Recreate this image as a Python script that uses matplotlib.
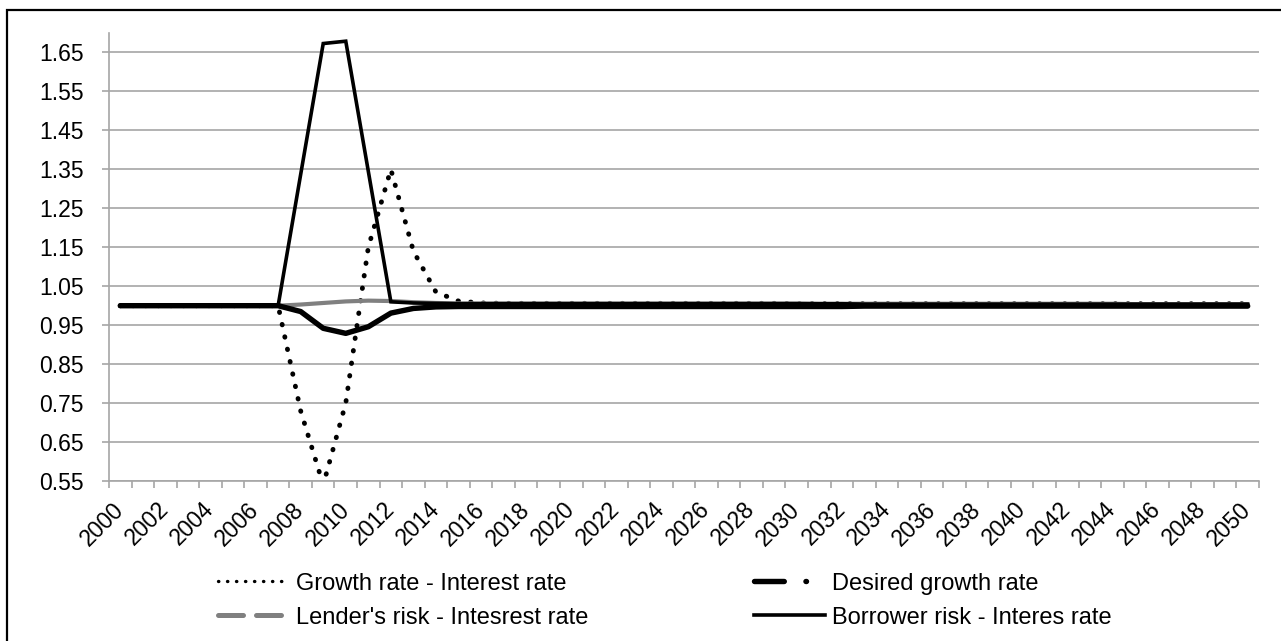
import numpy as np
import matplotlib
matplotlib.use("Agg")
import matplotlib.pyplot as plt
from matplotlib.lines import Line2D
from matplotlib.patches import Rectangle

plt.rcParams['font.family'] = ['Liberation Sans', 'DejaVu Sans']

# Data
years = list(range(2000, 2051))
tick_years = [str(y) for y in range(2000, 2051, 2)]

growth_minus_interest = (
    [1.000, 1.000, 1.000, 1.000, 1.000, 1.000, 1.000, 1.000,
     0.730, 0.540, 0.750, 1.150, 1.350, 1.140, 1.035, 1.012, 1.007]
    + [1.006, 1.006, 1.006, 1.006, 1.006, 1.006, 1.006, 1.006, 1.006, 1.006,
       1.006, 1.006, 1.006, 1.005, 1.005, 1.005, 1.005, 1.005, 1.005, 1.005,
       1.005, 1.005, 1.005, 1.005, 1.005, 1.005, 1.005, 1.005, 1.005, 1.005,
       1.005, 1.005, 1.005, 1.005]
)
lender_risk = (
    [1.000, 1.000, 1.000, 1.000, 1.000, 1.000, 1.000, 1.000,
     1.003, 1.007, 1.011, 1.013, 1.012, 1.009, 1.007, 1.006, 1.006]
    + [1.006, 1.006, 1.006, 1.006, 1.006, 1.006, 1.006, 1.006, 1.006, 1.006,
       1.006, 1.006, 1.006, 1.006, 1.005, 1.005, 1.005, 1.005, 1.005, 1.005,
       1.005, 1.005, 1.005, 1.005, 1.005, 1.005, 1.005, 1.005, 1.004, 1.004,
       1.004, 1.004, 1.004, 1.004]
)
desired_growth = (
    [1.000, 1.000, 1.000, 1.000, 1.000, 1.000, 1.000, 1.000,
     0.985, 0.942, 0.929, 0.946, 0.981, 0.993, 0.997, 0.998, 0.998]
    + [0.998, 0.998, 0.998, 0.998, 0.998, 0.998, 0.998, 0.998, 0.998, 0.998,
       0.998, 0.998, 0.998, 0.998, 0.998, 0.998, 0.999, 0.999, 0.999, 0.999,
       0.999, 0.999, 0.999, 0.999, 0.999, 0.999, 0.999, 0.999, 0.999, 0.999,
       0.999, 0.999, 0.999, 0.999]
)
borrower_risk = (
    [1.000, 1.000, 1.000, 1.000, 1.000, 1.000, 1.000, 1.000,
     1.337, 1.673, 1.679, 1.345, 1.010, 1.007, 1.006, 1.005, 1.005]
    + [1.005, 1.005, 1.005, 1.005, 1.005, 1.005, 1.005, 1.005, 1.005, 1.005,
       1.005, 1.005, 1.005, 1.005, 1.005, 1.005, 1.004, 1.004, 1.004, 1.004,
       1.004, 1.004, 1.004, 1.004, 1.004, 1.004, 1.004, 1.004, 1.004, 1.004,
       1.004, 1.004, 1.004, 1.004]
)

labels = ["Growth rate - Interest rate", "Lender's risk - Intesrest rate",
          "Desired growth rate", "Borrower risk - Interes rate"]

GRID = '#a6a6a6'
FS = 16.5

fig = plt.figure(figsize=(12.81, 6.41), dpi=100)
ax = fig.add_axes([0.0851, 0.2496, 0.8977, 0.6989])

x = np.arange(len(years))
ax.plot(x, growth_minus_interest, color='black', lw=3.5,
        linestyle=(0, (0.1, 2.5)), dash_capstyle='round', zorder=3)
ax.plot(x, lender_risk, color='#808080', lw=3.0, zorder=4,
        solid_capstyle='round')
ax.plot(x, borrower_risk, color='black', lw=2.6, zorder=5,
        solid_joinstyle='miter')
ax.plot(x, desired_growth, color='black', lw=3.9, zorder=6,
        solid_capstyle='round')

ax.set_xlim(-0.5, len(years) - 0.5)
ax.set_ylim(0.55, 1.70)
ax.set_yticks(np.arange(0.55, 1.66, 0.1))
ax.set_yticklabels(["%.2f" % v for v in np.arange(0.55, 1.66, 0.1)])
ax.yaxis.grid(True, color=GRID, lw=1.2)
ax.set_axisbelow(True)

ax.set_xticks(np.arange(-0.5, len(years), 1.0), minor=True)
ax.set_xticks(np.arange(0, len(years), 2))
ax.set_xticklabels(tick_years, rotation=45, ha='right', va='center',
                   rotation_mode='anchor')
ax.tick_params(axis='x', which='major', length=0, pad=18, labelsize=FS)
ax.tick_params(axis='x', which='minor', length=5, color=GRID, width=1.2)
ax.tick_params(axis='y', length=5, color=GRID, width=1.2, pad=13,
               labelsize=FS)

for side in ['top', 'right']:
    ax.spines[side].set_visible(False)
for side in ['left', 'bottom']:
    ax.spines[side].set_color(GRID)
    ax.spines[side].set_linewidth(1.2)

handles = [
    Line2D([], [], color='black', lw=2.4, linestyle=(0, (0.1, 2.6)),
           dash_capstyle='round'),
    Line2D([], [], color='#808080', lw=3.6, linestyle=(0, (5.0, 2.6)),
           dash_capstyle='round'),
    Line2D([], [], color='black', lw=3.9, linestyle=(0, (5.5, 4.0, 0.1, 4.0)),
           dash_capstyle='round'),
    Line2D([], [], color='black', lw=2.6),
]
fig.legend(handles, labels, ncol=2, loc='center',
           bbox_to_anchor=(0.519, 0.063), frameon=False, fontsize=17,
           handlelength=3.0, handletextpad=0.3, columnspacing=7.05,
           labelspacing=0.5)

# outer chart border
fig.patches.append(Rectangle((7 / 1281, -0.1), 1.2, 1.1 - 10 / 641,
                             transform=fig.transFigure, fill=False,
                             edgecolor='black', lw=1.6, clip_on=False))

fig.savefig('out.png', dpi=100)
